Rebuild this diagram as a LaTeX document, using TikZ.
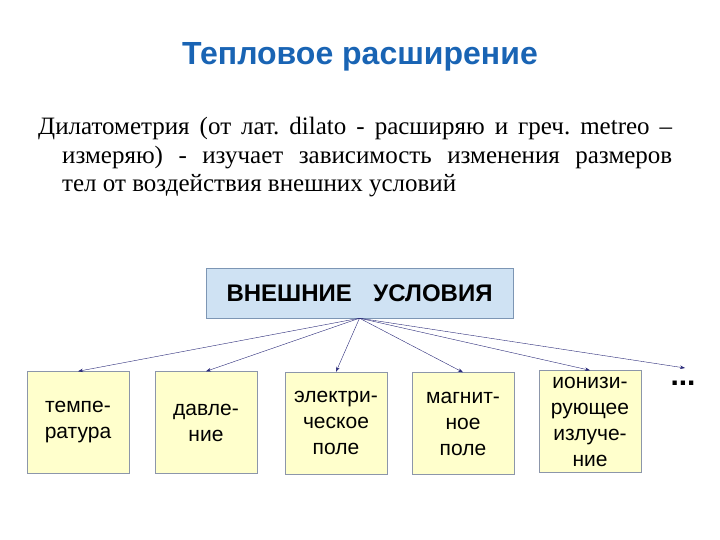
\documentclass[tikz,border=0pt]{standalone}
\usepackage{fontspec}
\setmainfont{Liberation Serif}
\setsansfont{Liberation Sans}
\usetikzlibrary{arrows.meta}

\definecolor{titleblue}{RGB}{25,100,180}
\definecolor{condfill}{RGB}{207,226,243}
\definecolor{condedge}{RGB}{125,150,180}
\definecolor{factorfill}{RGB}{255,255,204}
\definecolor{factoredge}{RGB}{140,150,170}
\definecolor{linkblue}{RGB}{40,40,120}

\begin{document}
\begin{tikzpicture}[
  x=1pt, y=-1pt,
  factor/.style={draw=factoredge, fill=factorfill, minimum width=102pt,
    minimum height=102pt, inner sep=0pt, align=center,
    font=\sffamily\fontsize{21}{26}\selectfont},
  link/.style={draw=linkblue, thin, -{Stealth[length=5pt,width=3.5pt]}},
]
\useasboundingbox (0,0) rectangle (720,540);

\node[font=\sffamily\bfseries\fontsize{32}{34}\selectfont, text=titleblue]
  (title) at (360,57) {Тепловое расширение};
\node[anchor=north west, inner sep=0pt, font=\fontsize{25}{28.5}\selectfont]
  (intro) at (38,117)
  {\parbox[t]{634pt}{\frenchspacing\hangindent=24pt\hangafter=1
   Дилатометрия (от лат. dilato - расширяю и греч. metreo --\linebreak
   измеряю) - изучает зависимость изменения размеров\linebreak
   тел от воздействия внешних условий}};

\node[draw=condedge, fill=condfill, minimum width=307pt, minimum height=50pt,
  font=\sffamily\bfseries\fontsize{24}{26}\selectfont] (cond) at (359.5,293)
  {ВНЕШНИЕ\hspace{0.9em}УСЛОВИЯ};

\node[factor] (temp) at (78,422.5) {темпе-\\ратура};
\node[factor] (press) at (206,422.5) {давле-\\ние};
\node[factor] (elec) at (336,423) {электри-\\ческое\\поле};
\node[factor] (magn) at (463,423.5) {магнит-\\ное\\поле};
\node[factor] (rad) at (590,421.5) {ионизи-\\рующее\\излуче-\\ние};
\node[font=\sffamily\bfseries\fontsize{30}{30}\selectfont] (dots) at (683,383) {...};
\coordinate (etc) at (685,368);

\foreach \f in {temp,press,elec,magn,rad}
  \draw[link] (cond.south) -- (\f.north);
\draw[link] (cond.south) -- (etc);
\end{tikzpicture}
\end{document}
